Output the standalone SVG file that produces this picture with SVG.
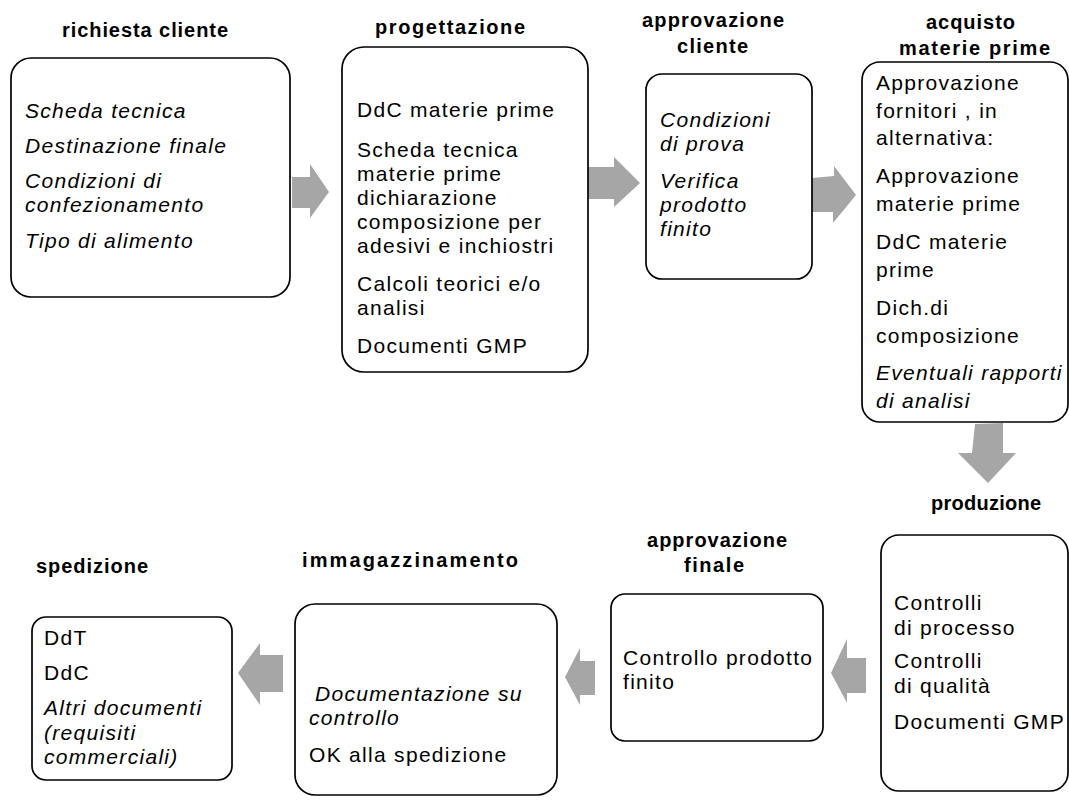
<svg xmlns="http://www.w3.org/2000/svg" width="1069" height="805" viewBox="0 0 1069 805">
  <style>
    .box{fill:#fff;stroke:#000;stroke-width:1.7}
    .t{font-family:"Liberation Sans",Arial,sans-serif;font-size:20px;font-weight:bold;fill:#000}
    .b{font-family:"Liberation Sans",Arial,sans-serif;font-size:21px;letter-spacing:1.3px;fill:#000}
    .i{font-style:italic}
    .arr{fill:#a6a6a6}
  </style>
  <rect width="1069" height="805" fill="#fff"/>

  <!-- block arrows between the process steps -->
  <g id="connectors">
    <polygon class="arr" points="292,177 310,177 310,164 329,192 310,218 310,208 292,208"/>
    <polygon class="arr" points="588,167 614,167 614,157 640,183 614,207 614,199 588,199"/>
    <polygon class="arr" points="812,178 834,176 834,166 856,195 833,223 833,212 812,212"/>
    <polygon class="arr" points="975,424 1003,423 1003,453 1016,453 988,483 958,453 972,453"/>
    <polygon class="arr" points="866,658 866,693 847,693 847,703 831,673 847,639 847,658"/>
    <polygon class="arr" points="595,661 595,695 580,695 580,705 565,677 580,648 580,661"/>
    <polygon class="arr" points="283,655 283,692 260,692 260,705 238,673 260,643 260,655"/>
  </g>

  <g id="richiesta-cliente">
    <text class="t" x="62" y="37" textLength="166" lengthAdjust="spacing">richiesta cliente</text>
    <rect class="box" x="11" y="58" width="279" height="239" rx="20"/>
    <text class="b i">
      <tspan x="25" y="118">Scheda tecnica</tspan>
      <tspan x="25" y="153">Destinazione finale</tspan>
      <tspan x="25" y="188">Condizioni di</tspan>
      <tspan x="25" y="212">confezionamento</tspan>
      <tspan x="25" y="248">Tipo di alimento</tspan>
    </text>
  </g>

  <g id="progettazione">
    <text class="t" x="375" y="34" textLength="150" lengthAdjust="spacing">progettazione</text>
    <rect class="box" x="342" y="47" width="246" height="325" rx="22"/>
    <text class="b">
      <tspan x="357" y="117">DdC materie prime</tspan>
      <tspan x="357" y="157">Scheda tecnica</tspan>
      <tspan x="357" y="181">materie prime</tspan>
      <tspan x="357" y="205">dichiarazione</tspan>
      <tspan x="357" y="229">composizione per</tspan>
      <tspan x="357" y="253">adesivi e inchiostri</tspan>
      <tspan x="357" y="291">Calcoli teorici e/o</tspan>
      <tspan x="357" y="315">analisi</tspan>
      <tspan x="357" y="353">Documenti GMP</tspan>
    </text>
  </g>

  <g id="approvazione-cliente">
    <text class="t">
      <tspan x="642" y="27" textLength="142" lengthAdjust="spacing">approvazione</tspan>
      <tspan x="677" y="53" textLength="71" lengthAdjust="spacing">cliente</tspan>
    </text>
    <rect class="box" x="646" y="74" width="166" height="205" rx="16"/>
    <text class="b i">
      <tspan x="660" y="127">Condizioni</tspan>
      <tspan x="660" y="151">di prova</tspan>
      <tspan x="660" y="188">Verifica</tspan>
      <tspan x="660" y="212">prodotto</tspan>
      <tspan x="660" y="236">finito</tspan>
    </text>
  </g>

  <g id="acquisto-materie-prime">
    <text class="t">
      <tspan x="926" y="29" textLength="89" lengthAdjust="spacing">acquisto</tspan>
      <tspan x="899" y="55" textLength="151" lengthAdjust="spacing">materie prime</tspan>
    </text>
    <rect class="box" x="862" y="62" width="206" height="360" rx="18"/>
    <text class="b">
      <tspan x="876" y="90">Approvazione</tspan>
      <tspan x="876" y="118">fornitori , in</tspan>
      <tspan x="876" y="145">alternativa:</tspan>
      <tspan x="876" y="183">Approvazione</tspan>
      <tspan x="876" y="211">materie prime</tspan>
      <tspan x="876" y="249">DdC materie</tspan>
      <tspan x="876" y="277">prime</tspan>
      <tspan x="876" y="315">Dich.di</tspan>
      <tspan x="876" y="343">composizione</tspan>
      <tspan class="i" x="876" y="380">Eventuali rapporti</tspan>
      <tspan class="i" x="876" y="408">di analisi</tspan>
    </text>
  </g>

  <g id="produzione">
    <text class="t" x="931" y="510" textLength="110" lengthAdjust="spacing">produzione</text>
    <rect class="box" x="881" y="535" width="187" height="256" rx="18"/>
    <text class="b">
      <tspan x="894" y="610">Controlli</tspan>
      <tspan x="894" y="635">di processo</tspan>
      <tspan x="894" y="668">Controlli</tspan>
      <tspan x="894" y="693">di qualità</tspan>
      <tspan x="894" y="729">Documenti GMP</tspan>
    </text>
  </g>

  <g id="approvazione-finale">
    <text class="t">
      <tspan x="647" y="547" textLength="140" lengthAdjust="spacing">approvazione</tspan>
      <tspan x="684" y="572" textLength="60" lengthAdjust="spacing">finale</tspan>
    </text>
    <rect class="box" x="611" y="594" width="212" height="147" rx="14"/>
    <text class="b">
      <tspan x="623" y="665">Controllo prodotto</tspan>
      <tspan x="623" y="689">finito</tspan>
    </text>
  </g>

  <g id="immagazzinamento">
    <text class="t" x="302" y="567" textLength="216" lengthAdjust="spacing">immagazzinamento</text>
    <rect class="box" x="295" y="604" width="262" height="191" rx="20"/>
    <text class="b">
      <tspan class="i" x="315" y="701">Documentazione su</tspan>
      <tspan class="i" x="309" y="725">controllo</tspan>
      <tspan x="309" y="762">OK alla spedizione</tspan>
    </text>
  </g>

  <g id="spedizione">
    <text class="t" x="36" y="573" textLength="112" lengthAdjust="spacing">spedizione</text>
    <rect class="box" x="32" y="617" width="200" height="163" rx="14"/>
    <text class="b">
      <tspan x="44" y="645">DdT</tspan>
      <tspan x="44" y="680">DdC</tspan>
      <tspan class="i" x="44" y="715">Altri documenti</tspan>
      <tspan class="i" x="44" y="740">(requisiti</tspan>
      <tspan class="i" x="44" y="764">commerciali)</tspan>
    </text>
  </g>
</svg>
